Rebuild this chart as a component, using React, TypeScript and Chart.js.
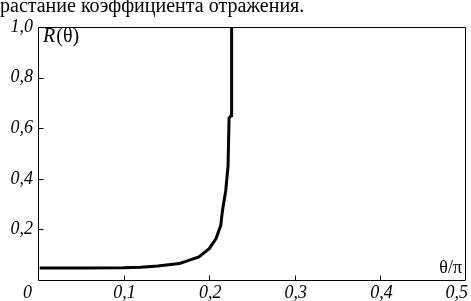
import { useEffect, useRef } from "react";
import { Chart, registerables } from "chart.js";

Chart.register(...registerables);

const titleText = "растание коэффициента отражения.";
const yAxisLabel = "(θ)";
const yAxisLabelItalic = "R";
const xAxisLabel = "θ/π";

const thetaOverPi = [0.002, 0.05, 0.1, 0.12, 0.14, 0.165, 0.188, 0.2, 0.208, 0.2135, 0.2155, 0.2193, 0.222, 0.2232, 0.2256, 0.2262];
const reflectance = [0.047, 0.047, 0.048, 0.05, 0.055, 0.065, 0.091, 0.124, 0.164, 0.216, 0.275, 0.353, 0.45, 0.64, 0.65, 1.0];

const xTickValues = [0, 0.1, 0.2, 0.3, 0.4, 0.5];
const yTickValues = [0.2, 0.4, 0.6, 0.8, 1.0];

const SERIF = "'Liberation Serif', 'Times New Roman', serif";

const fmt = (v: number) => (Math.abs(v) < 1e-9 ? "0" : v.toFixed(1).replace(".", ","));

const framePlugin = {
  id: "frameAndMarks",
  afterDraw(chart: any) {
    const { ctx, chartArea, scales } = chart;
    const { left, right, top, bottom } = chartArea;
    const xs = scales.x;
    const ys = scales.y;
    ctx.save();
    ctx.strokeStyle = "#000";
    ctx.lineWidth = 1;
    const L = Math.round(left) + 0.5;
    const R = Math.round(right) - 0.5;
    const T = Math.round(top) + 0.5;
    const B = Math.round(bottom) + 0.5;
    ctx.beginPath();
    ctx.moveTo(L, T);
    ctx.lineTo(R, T);
    ctx.lineTo(R, B);
    ctx.lineTo(L, B);
    ctx.closePath();
    ctx.stroke();
    // inward tick marks
    ctx.beginPath();
    yTickValues.forEach((v) => {
      if (v >= 1) return;
      const py = Math.round(ys.getPixelForValue(v)) + 0.5;
      ctx.moveTo(L, py);
      ctx.lineTo(L + 5, py);
    });
    xTickValues.forEach((v) => {
      if (v <= 0 || v >= 0.5) return;
      const px = Math.round(xs.getPixelForValue(v)) + 0.5;
      ctx.moveTo(px, B);
      ctx.lineTo(px, B - 5);
    });
    ctx.stroke();
    ctx.fillStyle = "#000";
    // x tick labels, placed from the scale
    ctx.font = `italic 18px ${SERIF}`;
    ctx.textBaseline = "alphabetic";
    xTickValues.forEach((v, i) => {
      const px = xs.getPixelForValue(v);
      const text = fmt(v);
      if (i === 0) {
        ctx.textAlign = "right";
        ctx.fillText(text, px - 6, bottom + 18);
      } else if (i === xTickValues.length - 1) {
        ctx.textAlign = "right";
        ctx.fillText(text, px + 2, bottom + 18);
      } else {
        ctx.textAlign = "center";
        ctx.fillText(text, px + 1, bottom + 18);
      }
    });
    // axis names inside the frame
    ctx.textBaseline = "middle";
    ctx.textAlign = "left";
    ctx.font = `italic 20px ${SERIF}`;
    const rx = left + 5;
    const ry = top + 10;
    ctx.fillText(yAxisLabelItalic, rx, ry);
    const rw = ctx.measureText(yAxisLabelItalic).width;
    ctx.font = `20px ${SERIF}`;
    ctx.fillText(yAxisLabel, rx + rw + 1, ry);
    ctx.font = `18px ${SERIF}`;
    ctx.textAlign = "right";
    ctx.fillText(xAxisLabel, right - 4, bottom - 12);
    ctx.restore();
  },
};

export default function App() {
  const canvasRef = useRef<HTMLCanvasElement | null>(null);

  useEffect(() => {
    if (!canvasRef.current) return;
    const points = thetaOverPi.map((t, i) => ({ x: t, y: reflectance[i] }));
    const chart = new Chart(canvasRef.current, {
      type: "line",
      data: {
        datasets: [
          {
            data: points,
            borderColor: "#000",
            borderWidth: 3,
            pointRadius: 0,
            tension: 0,
            fill: false,
          },
        ],
      },
      options: {
        animation: false,
        responsive: true,
        maintainAspectRatio: false,
        devicePixelRatio: 1,
        layout: { padding: { left: 0, right: 5, top: 0, bottom: 0 } },
        plugins: {
          legend: { display: false },
          tooltip: { enabled: false },
          title: {
            display: true,
            text: titleText,
            align: "start",
            color: "#000",
            font: { family: SERIF, size: 20, weight: "normal", lineHeight: 0.72 },
            padding: { top: 0, bottom: 12.6 },
          },
        },
        scales: {
          x: {
            type: "linear",
            min: 0,
            max: 0.5,
            grid: { display: false, drawTicks: false },
            border: { display: false },
            afterBuildTicks: (scale: any) => {
              scale.ticks = xTickValues.map((v) => ({ value: v }));
            },
            ticks: { display: false },
            afterFit: (scale: any) => {
              scale.height = 21;
              scale.paddingLeft = 0;
              scale.paddingRight = 0;
            },
          },
          y: {
            type: "linear",
            min: 0,
            max: 1,
            grid: { display: false, drawTicks: false },
            border: { display: false },
            afterBuildTicks: (scale: any) => {
              scale.ticks = yTickValues.map((v) => ({ value: v }));
            },
            ticks: {
              color: "#000",
              font: { family: SERIF, size: 18, style: "italic" },
              padding: 5,
              autoSkip: false,
              callback: (v: any) => fmt(Number(v)),
            },
            afterFit: (scale: any) => {
              scale.width = 38;
              scale.paddingTop = 0;
              scale.paddingBottom = 0;
            },
          },
        },
      },
      plugins: [framePlugin],
    });
    return () => chart.destroy();
  }, []);

  return (
    <div style={{ position: "fixed", left: 0, top: 0, width: 471, height: 301, background: "#fff" }}>
      <canvas ref={canvasRef} />
    </div>
  );
}
